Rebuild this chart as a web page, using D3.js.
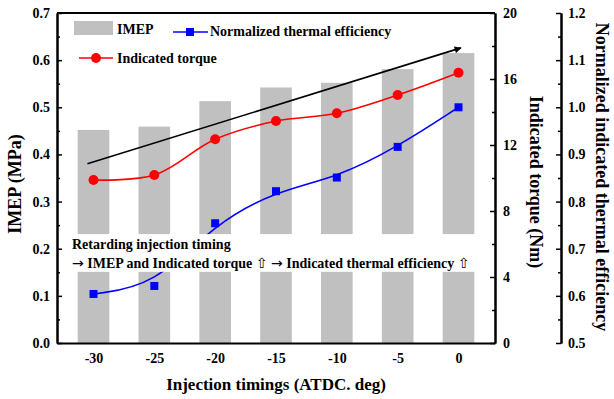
<!DOCTYPE html>
<html>
<head>
<meta charset="utf-8">
<script src="https://cdn.jsdelivr.net/npm/d3@7"></script>
<style>
  html, body { margin: 0; padding: 0; background: #fff; }
  svg { display: block; }
  text { font-family: "Liberation Serif", "Times New Roman", serif; font-weight: bold; fill: #000; }
  tspan.sym { font-family: "DejaVu Sans", sans-serif; font-weight: normal; }
</style>
</head>
<body>
<script>
// ---- data ----
const timings = [-30, -25, -20, -15, -10, -5, 0];
const imep = [0.452, 0.459, 0.513, 0.542, 0.552, 0.581, 0.615];
const torque = [9.88, 10.18, 12.35, 13.45, 13.92, 15.03, 16.38];
const thermalEff = [0.604, 0.621, 0.754, 0.822, 0.851, 0.916, 1.0];
const imepTicks = [0, 0.1, 0.2, 0.3, 0.4, 0.5, 0.6, 0.7];
const torqueTicks = [0, 4, 8, 12, 16, 20];
const effTicks = [0.5, 0.6, 0.7, 0.8, 0.9, 1.0, 1.1, 1.2];
const timingLabels = ["-30", "-25", "-20", "-15", "-10", "-5", "0"];
const xLabel = "Injection timings (ATDC. deg)";
const yLeftLabel = "IMEP (MPa)";
const yMidLabel = "Indicated torque (Nm)";
const yRightLabel = "Normalized indicated thermal efficiency";
const legendLabels = ["IMEP", "Normalized thermal efficiency", "Indicated torque"];
const noteLine1 = "Retarding injection timing";
// second note line as [text, isSymbol] pieces
const noteLine2 = [["\u2192", true], [" IMEP and Indicated torque ", false], ["\u21E7", true],
  [" ", false], ["\u2192", true], [" Indicated thermal efficiency ", false], ["\u21E7", true]];
// trend arrow (data coords: timing, IMEP)
const trendArrow = [[-30.5, 0.380], [0.2, 0.626]];
// note box band (IMEP units)
const noteBand = [0.151, 0.231];

const W = 614, H = 399;
const L = 57, R = 495, T = 13, B = 343;
const RA = 561;

const svg = d3.select("body").append("svg").attr("width", W).attr("height", H);

const x = d3.scaleLinear().domain([-33, 3]).range([L, R]);
const yL = d3.scaleLinear().domain([0, 0.7]).range([B, T]);
const yT = d3.scaleLinear().domain([0, 20]).range([B, T]);
const yN = d3.scaleLinear().domain([0.5, 1.2]).range([B, T]);

const barW = x(1.3) - x(-1.3);

// bars
svg.append("g").selectAll("rect").data(timings).join("rect")
  .attr("x", (d) => x(d) - barW / 2)
  .attr("width", barW)
  .attr("y", (d, i) => yL(imep[i]))
  .attr("height", (d, i) => B - yL(imep[i]))
  .attr("fill", "#c0c0c0");

// trend arrow
svg.append("defs").append("marker")
  .attr("id", "ah").attr("viewBox", "0 0 10 10").attr("refX", 9).attr("refY", 5)
  .attr("markerWidth", 10).attr("markerHeight", 7).attr("markerUnits", "userSpaceOnUse")
  .attr("orient", "auto")
  .append("path").attr("d", "M0,0 L10,5 L0,10 Z").attr("fill", "#000");
svg.append("line")
  .attr("x1", x(trendArrow[0][0])).attr("y1", yL(trendArrow[0][1]))
  .attr("x2", x(trendArrow[1][0])).attr("y2", yL(trendArrow[1][1]))
  .attr("stroke", "#000").attr("stroke-width", 1.6)
  .attr("marker-end", "url(#ah)");

// lines
const torqueLine = d3.line().x((d, i) => x(timings[i])).y((d) => yT(d)).curve(d3.curveCatmullRom);
const effLine = d3.line().x((d, i) => x(timings[i])).y((d) => yN(d)).curve(d3.curveBasis);
svg.append("path").attr("d", torqueLine(torque)).attr("fill", "none").attr("stroke", "#ff0000").attr("stroke-width", 1.6);
svg.append("path").attr("d", effLine(thermalEff)).attr("fill", "none").attr("stroke", "#0000ff").attr("stroke-width", 1.6);

// note box (white)
svg.append("rect").attr("x", L + 1).attr("width", R - L - 2)
  .attr("y", yL(noteBand[1])).attr("height", yL(noteBand[0]) - yL(noteBand[1]))
  .attr("fill", "#fff");

// markers
svg.append("g").selectAll("circle").data(torque).join("circle")
  .attr("cx", (d, i) => x(timings[i])).attr("cy", (d) => yT(d)).attr("r", 5).attr("fill", "#ff0000");
svg.append("g").selectAll("rect").data(thermalEff).join("rect")
  .attr("x", (d, i) => x(timings[i]) - 4).attr("y", (d) => yN(d) - 4)
  .attr("width", 8).attr("height", 8).attr("fill", "#0000ff");

// note text
svg.append("text").attr("x", 72).attr("y", 249).attr("font-size", 14).text(noteLine1);
const t2 = svg.append("text").attr("x", 72).attr("y", 268).attr("font-size", 14);
t2.selectAll("tspan").data(noteLine2).join("tspan")
  .attr("class", (d) => d[1] ? "sym" : null)
  .text((d) => d[0]);

// axes
function styleAxis(g) {
  g.selectAll("path.domain").attr("stroke", "#000").attr("stroke-width", 2);
  g.selectAll(".tick line").attr("stroke", "#000").attr("stroke-width", 1.5);
  g.selectAll("text").attr("font-size", 14).attr("font-family", "Liberation Serif").attr("font-weight", "bold");
}
const minorL = d3.range(0.05, 0.7, 0.1);
const minorT = d3.range(2, 20, 4);
const minorN = d3.range(0.55, 1.2, 0.1);

// left
svg.append("g").attr("transform", `translate(${L},0)`)
  .call(d3.axisLeft(yL).tickValues(minorL).tickSizeInner(-3).tickSizeOuter(0).tickFormat(""))
  .call(styleAxis);
svg.append("g").attr("transform", `translate(${L},0)`)
  .call(d3.axisLeft(yL).tickValues(imepTicks).tickSizeInner(-5).tickSizeOuter(0).tickPadding(7).tickFormat(d3.format(".1f")))
  .call(styleAxis);
// middle (torque)
svg.append("g").attr("transform", `translate(${R},0)`)
  .call(d3.axisRight(yT).tickValues(minorT).tickSizeInner(-3).tickSizeOuter(0).tickFormat(""))
  .call(styleAxis);
svg.append("g").attr("transform", `translate(${R},0)`)
  .call(d3.axisRight(yT).tickValues(torqueTicks).tickSizeInner(-5).tickSizeOuter(0).tickPadding(8).tickFormat(d3.format("d")))
  .call(styleAxis);
// right (efficiency)
svg.append("g").attr("transform", `translate(${RA},0)`)
  .call(d3.axisRight(yN).tickValues(minorN).tickSizeInner(-3).tickSizeOuter(0).tickFormat(""))
  .call(styleAxis);
svg.append("g").attr("transform", `translate(${RA},0)`)
  .call(d3.axisRight(yN).tickValues(effTicks).tickSizeInner(-5).tickSizeOuter(0).tickPadding(7).tickFormat(d3.format(".1f")))
  .call(styleAxis);
// bottom
svg.append("g").attr("transform", `translate(0,${B})`)
  .call(d3.axisBottom(x).tickValues(timings).tickSize(0).tickPadding(10).tickFormat((d, i) => timingLabels[i]))
  .call(styleAxis);
// top frame
svg.append("line").attr("x1", L).attr("x2", R).attr("y1", T).attr("y2", T).attr("stroke", "#000").attr("stroke-width", 2);

// axis titles
svg.append("text").attr("x", (L + R) / 2).attr("y", 390).attr("text-anchor", "middle").attr("font-size", 17).text(xLabel);
svg.append("text").attr("transform", "translate(21,184) rotate(-90)").attr("text-anchor", "middle").attr("font-size", 18).text(yLeftLabel);
svg.append("text").attr("transform", "translate(530,182) rotate(90)").attr("text-anchor", "middle").attr("font-size", 18).text(yMidLabel);
svg.append("text").attr("transform", "translate(596,177) rotate(90)").attr("text-anchor", "middle").attr("font-size", 18).text(yRightLabel);

// legend
svg.append("rect").attr("x", 74).attr("y", 21).attr("width", 39).attr("height", 14).attr("fill", "#c0c0c0");
svg.append("text").attr("x", 117).attr("y", 34).attr("font-size", 14).text(legendLabels[0]);
svg.append("line").attr("x1", 173).attr("x2", 208).attr("y1", 32).attr("y2", 32).attr("stroke", "#0000ff").attr("stroke-width", 1.6);
svg.append("rect").attr("x", 186).attr("y", 28).attr("width", 8).attr("height", 8).attr("fill", "#0000ff");
svg.append("text").attr("x", 210).attr("y", 36).attr("font-size", 14).text(legendLabels[1]);
svg.append("line").attr("x1", 79).attr("x2", 113).attr("y1", 58).attr("y2", 58).attr("stroke", "#ff0000").attr("stroke-width", 1.6);
svg.append("circle").attr("cx", 96).attr("cy", 58).attr("r", 5).attr("fill", "#ff0000");
svg.append("text").attr("x", 117).attr("y", 63).attr("font-size", 14).text(legendLabels[2]);
</script>
</body>
</html>
